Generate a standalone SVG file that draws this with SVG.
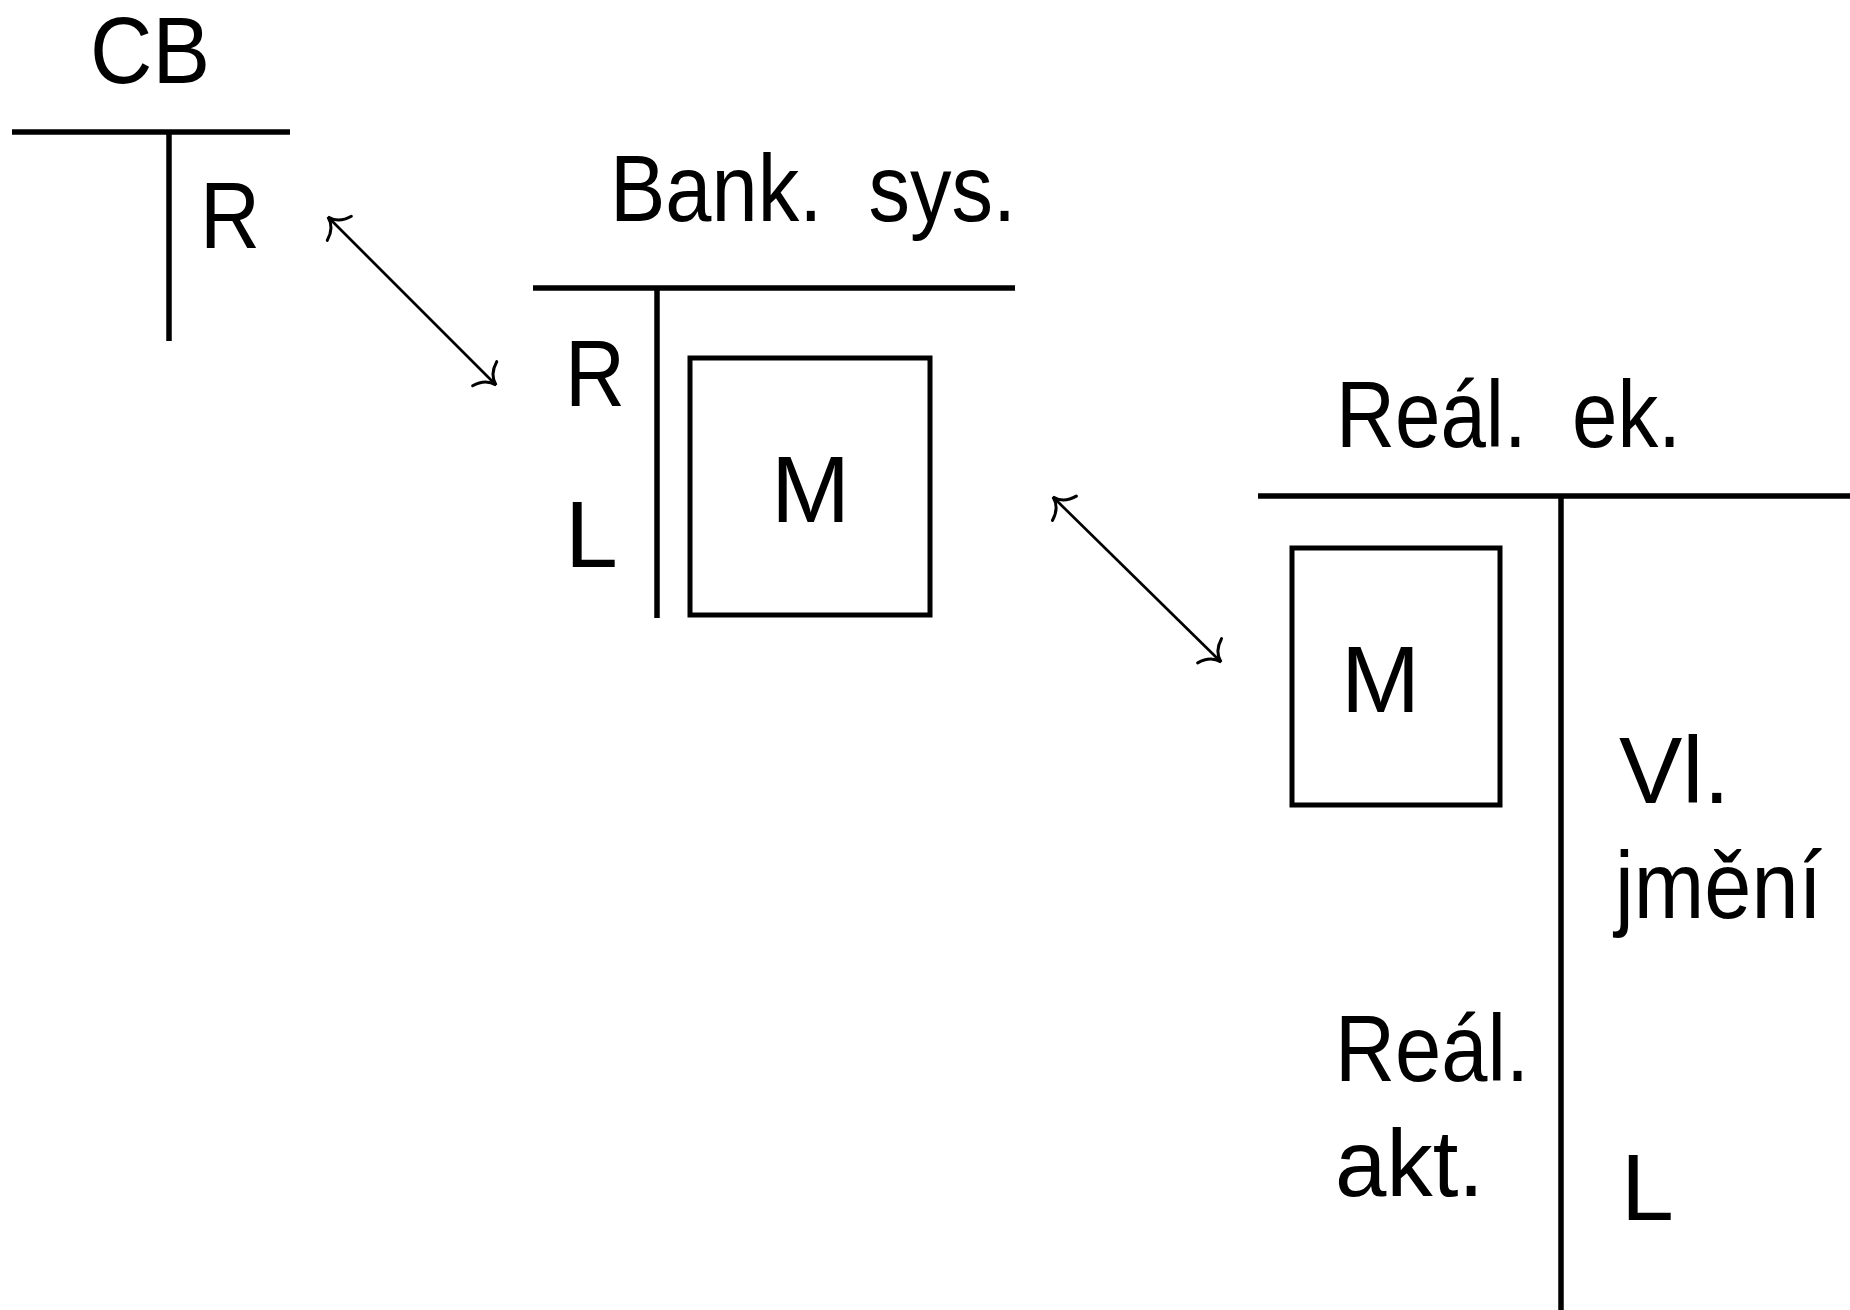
<svg xmlns="http://www.w3.org/2000/svg" width="1850" height="1310" viewBox="0 0 1850 1310">
<style>
  .t { font-family: "Liberation Sans", Arial, sans-serif; font-size: 95px; fill: #000; white-space: pre; }
  .ln { stroke: #000; stroke-width: 5.5; fill: none; }
  .bx { stroke: #000; stroke-width: 5; fill: none; }
  .ar { stroke: #000; stroke-width: 2.7; fill: none; }
</style>
<defs>
  <marker id="tip" markerUnits="userSpaceOnUse" markerWidth="60" markerHeight="60" refX="0" refY="0" orient="auto-start-reverse" overflow="visible" viewBox="-30 -30 60 60">
    <path d="M -16,-17 Q -12,-3 0,0 Q -12,3 -16,17" stroke="#000" stroke-width="3" fill="none" stroke-linecap="round"/>
  </marker>
</defs>
<rect width="1850" height="1310" fill="#fff"/>

<g id="cb">
  <text class="t" x="90" y="83" textLength="120" lengthAdjust="spacingAndGlyphs">CB</text>
  <line class="ln" x1="12" y1="132" x2="290" y2="132"/>
  <line class="ln" x1="169" y1="132" x2="169" y2="341"/>
  <text class="t" x="200" y="248" textLength="60" lengthAdjust="spacingAndGlyphs">R</text>
</g>

<g id="bank">
  <text class="t" x="610" y="221" textLength="406" lengthAdjust="spacingAndGlyphs">Bank.  sys.</text>
  <line class="ln" x1="533" y1="288" x2="1015" y2="288"/>
  <line class="ln" x1="657" y1="288" x2="657" y2="618"/>
  <text class="t" x="565" y="406" textLength="60" lengthAdjust="spacingAndGlyphs">R</text>
  <text class="t" x="565" y="567">L</text>
  <g id="bank-m">
    <rect class="bx" x="690" y="358" width="240" height="257"/>
    <text class="t" x="771" y="522">M</text>
  </g>
</g>

<g id="real">
  <text class="t" x="1336" y="447" textLength="345" lengthAdjust="spacingAndGlyphs">Reál.  ek.</text>
  <line class="ln" x1="1258" y1="496" x2="1850" y2="496"/>
  <line class="ln" x1="1561" y1="496" x2="1561" y2="1310"/>
  <g id="real-m">
    <rect class="bx" x="1292" y="548" width="208" height="257"/>
    <text class="t" x="1341" y="712">M</text>
  </g>
  <text class="t" x="1619" y="803">Vl.</text>
  <text class="t" x="1615" y="918" textLength="207" lengthAdjust="spacingAndGlyphs">jmění</text>
  <text class="t" x="1335" y="1081" textLength="194" lengthAdjust="spacingAndGlyphs">Reál.</text>
  <text class="t" x="1335" y="1196" textLength="149" lengthAdjust="spacingAndGlyphs">akt.</text>
  <text class="t" x="1621" y="1220">L</text>
</g>

<g id="connectors">
  <line class="ar" x1="328" y1="217" x2="496" y2="385" marker-start="url(#tip)" marker-end="url(#tip)"/>
  <line class="ar" x1="1053" y1="497" x2="1221" y2="662" marker-start="url(#tip)" marker-end="url(#tip)"/>
</g>
</svg>
